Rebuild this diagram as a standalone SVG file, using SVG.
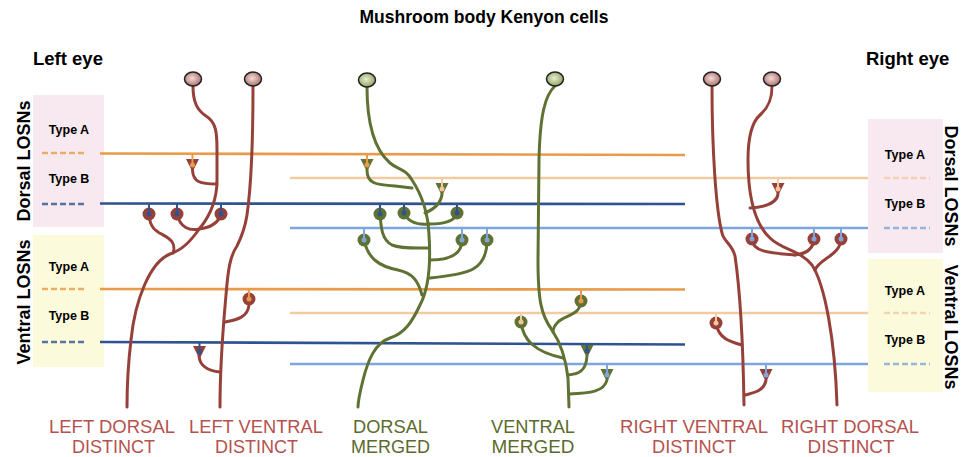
<svg xmlns="http://www.w3.org/2000/svg" width="969" height="457" viewBox="0 0 969 457">
<style>
.bold{font-family:"Liberation Sans",Arial,sans-serif;font-weight:bold;fill:#000}
.lbl{font-family:"Liberation Sans",Arial,sans-serif;font-size:19px;text-anchor:middle}
.lr{fill:#b5524e}.lg{fill:#5b6b2c}
.typ{font-family:"Liberation Sans",Arial,sans-serif;font-weight:bold;font-size:12.5px;text-anchor:middle}
.hl{stroke-width:2.6;fill:none}
.dA{stroke:#e99a4a}.lA{stroke:#f3cba3}.dB{stroke:#2f5290}.lB{stroke:#7ea6dc}
.dash{stroke-width:2.6;stroke-dasharray:6 3;fill:none;opacity:0.8}
.nr{stroke:#96403a;stroke-width:3;fill:none;stroke-linecap:round}
.ng{stroke:#5f7233;stroke-width:3;fill:none;stroke-linecap:round}
.fr{fill:#96403a}.fg{fill:#5f7233}
.peg{stroke-width:2;fill:none}
.cA{fill:#e99a4a}.cLA{fill:#f3c59a}.cB{fill:#2f5290}.cLB{fill:#7ea6dc}
</style>
<defs>
<radialGradient id="gr" cx="0.45" cy="0.45" r="0.6"><stop offset="0" stop-color="#f4dcd9"/><stop offset="1" stop-color="#a86a66"/></radialGradient>
<radialGradient id="gg" cx="0.45" cy="0.45" r="0.6"><stop offset="0" stop-color="#e6eecf"/><stop offset="1" stop-color="#8b9d5a"/></radialGradient>
</defs>

<text class="bold" x="484" y="23" font-size="17.5" text-anchor="middle">Mushroom body Kenyon cells</text>
<text class="bold" x="33" y="65" font-size="18.5">Left eye</text>
<text class="bold" x="866" y="65" font-size="18.5">Right eye</text>

<g id="left-dorsal-panel">
<rect x="33" y="95" width="71" height="132" fill="#f7e9ef"/>
<text class="typ" x="69" y="134">Type A</text>
<text class="typ" x="69" y="183">Type B</text>
<line class="dash dA" x1="42" y1="153" x2="87" y2="153"/>
<line class="dash dB" x1="42" y1="204" x2="87" y2="204"/>
<text class="bold" font-size="18" text-anchor="middle" transform="translate(30,161) rotate(-90)">Dorsal LOSNs</text>
</g>
<g id="left-ventral-panel">
<rect x="33" y="235" width="71" height="132" fill="#fbfbdc"/>
<text class="typ" x="69" y="271">Type A</text>
<text class="typ" x="69" y="320">Type B</text>
<line class="dash dA" x1="42" y1="289" x2="87" y2="289"/>
<line class="dash dB" x1="42" y1="342" x2="87" y2="342"/>
<text class="bold" font-size="18" text-anchor="middle" transform="translate(30,302) rotate(-90)">Ventral LOSNs</text>
</g>
<g id="right-dorsal-panel">
<rect x="868" y="119" width="75" height="134" fill="#f7e9ef"/>
<text class="typ" x="905" y="159">Type A</text>
<text class="typ" x="905" y="208">Type B</text>
<line class="dash lA" x1="884" y1="178" x2="930" y2="178"/>
<line class="dash lB" x1="884" y1="228" x2="930" y2="228"/>
<text class="bold" font-size="18" text-anchor="middle" transform="translate(945,186) rotate(90)">Dorsal LOSNs</text>
</g>
<g id="right-ventral-panel">
<rect x="868" y="259" width="75" height="133" fill="#fbfbdc"/>
<text class="typ" x="905" y="295">Type A</text>
<text class="typ" x="905" y="344">Type B</text>
<line class="dash lA" x1="884" y1="313" x2="930" y2="313"/>
<line class="dash lB" x1="884" y1="364" x2="930" y2="364"/>
<text class="bold" font-size="18" text-anchor="middle" transform="translate(945,327) rotate(90)">Ventral LOSNs</text>
</g>

<g id="losn-lines">
<line class="hl dA" x1="100" y1="153.5" x2="685" y2="155"/>
<line class="hl lA" x1="290" y1="178" x2="868" y2="178"/>
<line class="hl dB" x1="100" y1="203.5" x2="685" y2="204"/>
<line class="hl lB" x1="290" y1="228" x2="868" y2="228"/>
<line class="hl dA" x1="100" y1="289" x2="685" y2="289.5"/>
<line class="hl lA" x1="290" y1="313" x2="868" y2="313"/>
<line class="hl dB" x1="100" y1="342" x2="685" y2="344.5"/>
<line class="hl lB" x1="290" y1="364" x2="868" y2="364"/>
</g>

<g id="left-dorsal-distinct">
<path class="nr" d="M193,86 C193,102 197,110 206,116 C216,122 217,132 217,150 L217,180 C217,196 213,212 200,228 C190,242 182,250 170,254 C150,262 135,300 131,340 C128,365 127,390 127,407"/>
<path class="nr" d="M192.5,170 C193,182 200,184 217,184"/>
<path class="nr" d="M149,214 C150,232 160,232 168,238 C174,242 175,248 173,253"/>
<path class="nr" d="M177,214 C180,228 190,231 199,229"/>
<path class="nr" d="M221,214 C218,225 207,228 199,229"/>
<polygon class="fr" points="186,159 199,159 192.5,172"/>
<circle class="fr" cx="149" cy="214" r="6.5"/><circle class="fr" cx="177" cy="214" r="6.5"/><circle class="fr" cx="221" cy="214" r="6.5"/>
<line class="peg dA" x1="192.5" y1="154" x2="192.5" y2="164"/><circle class="cA" cx="192.5" cy="165" r="2.5"/>
<line class="peg dB" x1="149" y1="204" x2="149" y2="213"/><circle class="cB" cx="149" cy="214" r="2.5"/>
<line class="peg dB" x1="177" y1="204" x2="177" y2="213"/><circle class="cB" cx="177" cy="214" r="2.5"/>
<line class="peg dB" x1="221" y1="204" x2="221" y2="213"/><circle class="cB" cx="221" cy="214" r="2.5"/>
<ellipse cx="193" cy="79" rx="8.5" ry="7" fill="url(#gr)" stroke="#222" stroke-width="1.5"/>
</g>

<g id="left-ventral-distinct">
<path class="nr" d="M253,86 C253,130 252,180 247,215 C245,228 242,236 237,246 C230,256 228,270 226,295 C223,330 220,360 220,407"/>
<path class="nr" d="M249,305 C248,318 235,320 225,322"/>
<path class="nr" d="M199,356 C200,368 210,371 220,372"/>
<polygon class="fr" points="193,346 206,346 199.5,359"/>
<circle class="fr" cx="249" cy="299" r="6.5"/>
<line class="peg dA" x1="249" y1="289" x2="249" y2="298"/><circle class="cA" cx="249" cy="299" r="2.5"/>
<line class="peg dB" x1="199.5" y1="343" x2="199.5" y2="351"/><circle class="cB" cx="199.5" cy="352" r="2.5"/>
<ellipse cx="253" cy="79" rx="8.5" ry="7" fill="url(#gr)" stroke="#222" stroke-width="1.5"/>
</g>

<g id="dorsal-merged">
<path class="ng" d="M367,87 C367,125 375,150 390,163 C398,170 405,168 412,180 C420,192 428,210 429,235 C431,265 428,290 420,305 C412,322 405,333 390,338 C375,343 368,360 363,380 C360,392 358,400 358,407"/>
<path class="ng" d="M367,170 C367,183 375,185 395,186 L412,188"/>
<path class="ng" d="M442,194 C441,205 432,210 425,213"/>
<path class="ng" d="M404,213 C408,222 418,225 429,224"/>
<path class="ng" d="M457,213 C455,222 440,224 429,224"/>
<path class="ng" d="M380,214 C381,228 382,240 392,245 C402,249 418,248 429,248"/>
<path class="ng" d="M364,240 C368,258 378,266 398,270 C412,273 418,280 422,295"/>
<path class="ng" d="M462,240 C462,255 448,260 430,260"/>
<path class="ng" d="M487,240 C487,270 470,274 430,278"/>
<polygon class="fg" points="360.5,159 373.5,159 367,172"/>
<polygon class="fg" points="435.5,183 448.5,183 442,196"/>
<circle class="fg" cx="380" cy="214" r="6.5"/><circle class="fg" cx="404" cy="213" r="6.5"/><circle class="fg" cx="457" cy="213" r="6.5"/>
<circle class="fg" cx="364" cy="240" r="6.5"/><circle class="fg" cx="462" cy="240" r="6.5"/><circle class="fg" cx="487" cy="240" r="6.5"/>
<line class="peg dA" x1="367" y1="155" x2="367" y2="164"/><circle class="cA" cx="367" cy="165" r="2.5"/>
<line class="peg lA" x1="442" y1="178" x2="442" y2="188"/><circle class="cLA" cx="442" cy="189" r="2.5"/>
<line class="peg dB" x1="380" y1="204" x2="380" y2="213"/><circle class="cB" cx="380" cy="214" r="2.5"/>
<line class="peg dB" x1="404" y1="204" x2="404" y2="212"/><circle class="cB" cx="404" cy="213" r="2.5"/>
<line class="peg dB" x1="457" y1="204" x2="457" y2="212"/><circle class="cB" cx="457" cy="213" r="2.5"/>
<line class="peg lB" x1="364" y1="228" x2="364" y2="239"/><circle class="cLB" cx="364" cy="240" r="2.5"/>
<line class="peg lB" x1="462" y1="228" x2="462" y2="239"/><circle class="cLB" cx="462" cy="240" r="2.5"/>
<line class="peg lB" x1="487" y1="228" x2="487" y2="239"/><circle class="cLB" cx="487" cy="240" r="2.5"/>
<ellipse cx="367" cy="80" rx="8.5" ry="7" fill="url(#gg)" stroke="#222" stroke-width="1.5"/>
</g>

<g id="ventral-merged">
<path class="ng" d="M555,86 C545,95 540,115 539,160 L538,260 C538,300 541,315 552,330 C562,345 566,360 568,378 L569,407"/>
<path class="ng" d="M521,322 C523,340 535,352 563,358"/>
<path class="ng" d="M581,301 C580,316 565,315 558,322 C554,326 553,330 553,332"/>
<path class="ng" d="M587,356 C586,372 578,374 568,375"/>
<path class="ng" d="M607,380 C604,392 590,393 569,394"/>
<polygon class="fg" points="580.5,345 593.5,345 587,358"/>
<polygon class="fg" points="600.5,369 613.5,369 607,382"/>
<circle class="fg" cx="521" cy="322" r="6.5"/><circle class="fg" cx="581" cy="301" r="6.5"/>
<line class="peg lA" x1="521" y1="313" x2="521" y2="321"/><circle class="cLA" cx="521" cy="322" r="2.5"/>
<line class="peg dA" x1="581" y1="289" x2="581" y2="300"/><circle class="cA" cx="581" cy="301" r="2.5"/>
<line class="peg dB" x1="587" y1="344" x2="587" y2="350"/><circle class="cB" cx="587" cy="351" r="2.5"/>
<line class="peg lB" x1="607" y1="364" x2="607" y2="374"/><circle class="cLB" cx="607" cy="375" r="2.5"/>
<ellipse cx="555" cy="79" rx="8.5" ry="7" fill="url(#gg)" stroke="#222" stroke-width="1.5"/>
</g>

<g id="right-ventral-distinct">
<path class="nr" d="M712,86 C712,150 716,210 722,233 C724,242 732,244 735,256 C740,290 743,340 744,405"/>
<path class="nr" d="M716,323 C718,338 730,342 742,345"/>
<path class="nr" d="M766,380 C764,392 752,393 745,395"/>
<polygon class="fr" points="759.5,369 772.5,369 766,382"/>
<circle class="fr" cx="716" cy="323" r="6.5"/>
<line class="peg lA" x1="716" y1="313" x2="716" y2="322"/><circle class="cLA" cx="716" cy="323" r="2.5"/>
<line class="peg lB" x1="766" y1="364" x2="766" y2="374"/><circle class="cLB" cx="766" cy="375" r="2.5"/>
<ellipse cx="712" cy="79" rx="8.5" ry="7" fill="url(#gr)" stroke="#222" stroke-width="1.5"/>
</g>

<g id="right-dorsal-distinct">
<path class="nr" d="M772,86 C772,100 768,108 760,115 C752,122 748,135 748,160 C748,200 756,225 770,238 C782,250 800,250 812,265 C825,285 835,340 837,405"/>
<path class="nr" d="M778,194 C777,203 765,207 750,208"/>
<path class="nr" d="M752,239 C752,252 770,253 795,255"/>
<path class="nr" d="M814,239 C813,250 805,254 795,255"/>
<path class="nr" d="M841,239 C840,256 820,258 815,270"/>
<polygon class="fr" points="771.5,183 784.5,183 778,196"/>
<circle class="fr" cx="752" cy="239" r="6.5"/><circle class="fr" cx="814" cy="239" r="6.5"/><circle class="fr" cx="841" cy="239" r="6.5"/>
<line class="peg lA" x1="778" y1="178" x2="778" y2="188"/><circle class="cLA" cx="778" cy="189" r="2.5"/>
<line class="peg lB" x1="752" y1="228" x2="752" y2="238"/><circle class="cLB" cx="752" cy="239" r="2.5"/>
<line class="peg lB" x1="814" y1="228" x2="814" y2="238"/><circle class="cLB" cx="814" cy="239" r="2.5"/>
<line class="peg lB" x1="841" y1="228" x2="841" y2="238"/><circle class="cLB" cx="841" cy="239" r="2.5"/>
<ellipse cx="772" cy="79" rx="8.5" ry="7" fill="url(#gr)" stroke="#222" stroke-width="1.5"/>
</g>

<g id="labels">
<text class="lbl lr" x="112" y="433" textLength="126" lengthAdjust="spacingAndGlyphs">LEFT DORSAL</text>
<text class="lbl lr" x="113.5" y="453" textLength="83" lengthAdjust="spacingAndGlyphs">DISTINCT</text>
<text class="lbl lr" x="256" y="433" textLength="134" lengthAdjust="spacingAndGlyphs">LEFT VENTRAL</text>
<text class="lbl lr" x="256.5" y="453" textLength="83" lengthAdjust="spacingAndGlyphs">DISTINCT</text>
<text class="lbl lg" x="390.5" y="433" textLength="75" lengthAdjust="spacingAndGlyphs">DORSAL</text>
<text class="lbl lg" x="390.5" y="453" textLength="79" lengthAdjust="spacingAndGlyphs">MERGED</text>
<text class="lbl lg" x="533" y="433" textLength="84" lengthAdjust="spacingAndGlyphs">VENTRAL</text>
<text class="lbl lg" x="533" y="453" textLength="83" lengthAdjust="spacingAndGlyphs">MERGED</text>
<text class="lbl lr" x="694" y="433" textLength="148" lengthAdjust="spacingAndGlyphs">RIGHT VENTRAL</text>
<text class="lbl lr" x="694" y="453" textLength="84" lengthAdjust="spacingAndGlyphs">DISTINCT</text>
<text class="lbl lr" x="850" y="433" textLength="138" lengthAdjust="spacingAndGlyphs">RIGHT DORSAL</text>
<text class="lbl lr" x="851" y="453" textLength="87" lengthAdjust="spacingAndGlyphs">DISTINCT</text>
</g>
</svg>
